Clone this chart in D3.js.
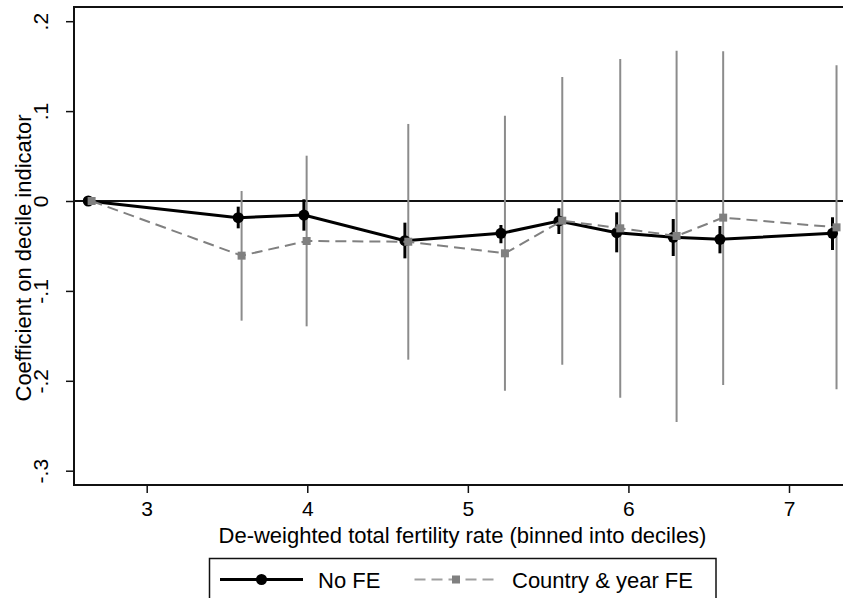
<!DOCTYPE html>
<html>
<head>
<meta charset="utf-8">
<script src="https://cdn.jsdelivr.net/npm/d3@7"></script>
<style>
  body { margin: 0; background: #fff; }
  svg { display: block; font-family: "Liberation Sans", Arial, Helvetica, sans-serif; }
  .tick text { font-size: 21px; font-family: "Liberation Sans", Arial, Helvetica, sans-serif; }
</style>
</head>
<body>
<div id="chart"></div>
<script>
var width = 843;
var height = 598;

// decile mean TFR (x) for each series; the FE series is nudged a bit right
var xNoFE = [2.636, 3.570, 3.979, 4.608, 5.206, 5.567, 5.927, 6.279, 6.570, 7.271];
var xFE   = [2.657, 3.591, 3.996, 4.629, 5.231, 5.588, 5.949, 6.300, 6.590, 7.296];

// No FE: coefficient and 95% CI
var coefNoFE = [0, -0.0185, -0.0156, -0.0441, -0.0360, -0.0222, -0.0352, -0.0404, -0.0426, -0.0360];
var loNoFE   = [null, -0.0304, -0.0330, -0.0638, -0.0470, -0.0367, -0.0571, -0.0612, -0.0582, -0.0545];
var hiNoFE   = [null, -0.0063, 0.0019, -0.0241, -0.0267, -0.0081, -0.0126, -0.0200, -0.0278, -0.0181];

// Country & year FE: coefficient and 95% CI
var coefFE = [0, -0.0608, -0.0445, -0.0453, -0.0582, -0.0219, -0.0304, -0.0389, -0.0185, -0.0293];
var loFE   = [null, -0.1331, -0.1394, -0.1765, -0.2110, -0.1821, -0.2188, -0.2458, -0.2047, -0.2095];
var hiFE   = [null, 0.0111, 0.0504, 0.0857, 0.0949, 0.1379, 0.1580, 0.1672, 0.1665, 0.1510];

var xTicks = [3, 4, 5, 6, 7];
var yTicks = [-0.3, -0.2, -0.1, 0, 0.1, 0.2];
var yTickLabels = ["-.3", "-.2", "-.1", "0", ".1", ".2"];

var legendLabels = ["No FE", "Country & year FE"];

// plot frame (Stata-like box, right side runs off the picture)
var frame = {left: 74, top: 7, bottom: 485, right: 843};

var x = d3.scaleLinear().domain([3, 7]).range([146.7, 789]);
var y = d3.scaleLinear().domain([-0.3, 0.2]).range([470.7, 21.2]);

var black = "#000";
var gray = "#808080";
var grayCI = "#8c8c8c";

var svg = d3.select("#chart")
  .append("svg")
    .attr("width", width)
    .attr("height", height);

// zero line
svg.append("line")
  .attr("x1", frame.left).attr("x2", frame.right)
  .attr("y1", y(0)).attr("y2", y(0))
  .attr("stroke", "#111").attr("stroke-width", 2);

var fe = xFE.map((d, i) => ({x: d, c: coefFE[i], lo: loFE[i], hi: hiFE[i]}));
var nofe = xNoFE.map((d, i) => ({x: d, c: coefNoFE[i], lo: loNoFE[i], hi: hiNoFE[i]}));

// gray CI spikes (FE)
svg.append("g")
  .selectAll("line")
  .data(fe.filter(d => d.lo != null))
  .join("line")
    .attr("x1", d => x(d.x)).attr("x2", d => x(d.x))
    .attr("y1", d => y(d.lo)).attr("y2", d => y(d.hi))
    .attr("stroke", grayCI).attr("stroke-width", 2);

// black CI spikes (No FE)
svg.append("g")
  .selectAll("line")
  .data(nofe.filter(d => d.lo != null))
  .join("line")
    .attr("x1", d => x(d.x)).attr("x2", d => x(d.x))
    .attr("y1", d => y(d.lo)).attr("y2", d => y(d.hi))
    .attr("stroke", black).attr("stroke-width", 3);

var line = d3.line().x(d => x(d.x)).y(d => y(d.c));

// No FE line + dots
svg.append("path")
  .datum(nofe)
  .attr("d", line)
  .attr("fill", "none")
  .attr("stroke", black).attr("stroke-width", 3);

svg.append("g")
  .selectAll("circle")
  .data(nofe)
  .join("circle")
    .attr("cx", d => x(d.x)).attr("cy", d => y(d.c))
    .attr("r", 5.5).attr("fill", black);

// FE dashed line + squares
svg.append("path")
  .datum(fe)
  .attr("d", line)
  .attr("fill", "none")
  .attr("stroke", gray).attr("stroke-width", 2)
  .attr("stroke-dasharray", "11,6");

svg.append("g")
  .selectAll("rect")
  .data(fe)
  .join("rect")
    .attr("x", d => x(d.x) - 4).attr("y", d => y(d.c) - 4)
    .attr("width", 8).attr("height", 8)
    .attr("fill", gray);

// frame
svg.append("path")
  .attr("d", "M" + frame.right + "," + frame.top + "H" + frame.left + "V" + frame.bottom + "H" + frame.right)
  .attr("fill", "none")
  .attr("stroke", "#111").attr("stroke-width", 2);

// x axis
var xAxis = svg.append("g")
  .attr("transform", "translate(0," + frame.bottom + ")")
  .call(d3.axisBottom(x).tickValues(xTicks).tickSize(8).tickPadding(8).tickFormat(d3.format("d")));
xAxis.select(".domain").remove();
xAxis.selectAll(".tick line").attr("stroke", "#111").attr("stroke-width", 1.5);
xAxis.selectAll(".tick text").attr("fill", "#000");

// y axis, labels turned like Stata
var yAxis = svg.append("g")
  .attr("transform", "translate(" + frame.left + ",0)")
  .call(d3.axisLeft(y).tickValues(yTicks).tickSize(8).tickFormat((d, i) => yTickLabels[i]));
yAxis.select(".domain").remove();
yAxis.selectAll(".tick line").attr("stroke", "#111").attr("stroke-width", 1.5);
yAxis.selectAll(".tick text")
  .attr("fill", "#000")
  .attr("x", null).attr("dy", null)
  .attr("text-anchor", "middle")
  .attr("transform", "translate(-26,0) rotate(-90)");

// axis titles
svg.append("text")
  .attr("x", (frame.left + frame.right) / 2 + 4)
  .attr("y", 543)
  .attr("text-anchor", "middle")
  .attr("font-size", 22)
  .text("De-weighted total fertility rate (binned into deciles)");

svg.append("text")
  .attr("transform", "translate(31," + ((frame.top + frame.bottom) / 2 + 12) + ") rotate(-90)")
  .attr("text-anchor", "middle")
  .attr("font-size", 22)
  .text("Coefficient on decile indicator");

// legend
var lg = svg.append("g");
lg.append("rect")
  .attr("x", 209.5).attr("y", 558.5)
  .attr("width", 506.5).attr("height", 50)
  .attr("fill", "#fff").attr("stroke", "#111").attr("stroke-width", 1.5);

lg.append("line")
  .attr("x1", 220).attr("x2", 303).attr("y1", 579.5).attr("y2", 579.5)
  .attr("stroke", black).attr("stroke-width", 3);
lg.append("circle").attr("cx", 261.5).attr("cy", 579.5).attr("r", 5.5).attr("fill", black);
lg.append("text").attr("x", 318).attr("y", 587.5).attr("font-size", 22).text(legendLabels[0]);

lg.append("line")
  .attr("x1", 414.5).attr("x2", 497).attr("y1", 579.5).attr("y2", 579.5)
  .attr("stroke", "#a0a0a0").attr("stroke-width", 2)
  .attr("stroke-dasharray", "11,6");
lg.append("rect").attr("x", 452).attr("y", 575.5).attr("width", 8).attr("height", 8).attr("fill", gray);
lg.append("text").attr("x", 512).attr("y", 587.5).attr("font-size", 22).text(legendLabels[1]);
</script>
</body>
</html>
